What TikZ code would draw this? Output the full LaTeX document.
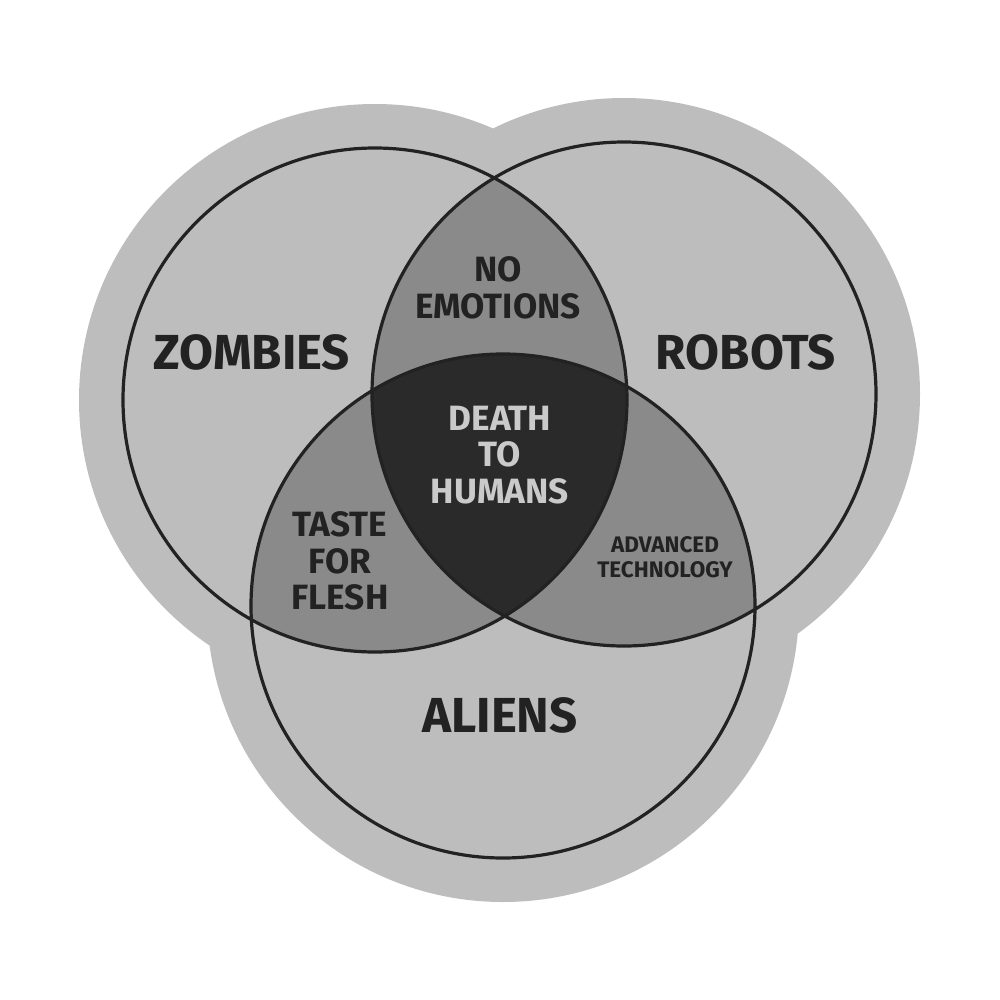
\documentclass[tikz,border=0pt]{standalone}
\usepackage{fontspec}
\setmainfont{Fira Sans}
\definecolor{sticker}{HTML}{BDBDBD}
\definecolor{lens}{HTML}{8A8A8A}
\definecolor{core}{HTML}{2A2A2A}
\definecolor{ink}{HTML}{222222}
\tikzset{
  setlabel/.style={font=\bfseries\fontsize{35}{37}\selectfont, text=ink, align=center},
  pairlabel/.style={font=\bfseries\fontsize{25}{26}\selectfont, text=ink, align=center},
  smalllabel/.style={font=\bfseries\fontsize{16}{18}\selectfont, text=ink, align=center},
  coreline/.style={line width=0.8mm, draw=ink}
}
\begin{document}
\begin{tikzpicture}[x=0.25mm,y=-0.25mm]
\useasboundingbox (0,0) rectangle (1000,1000);
\fill[white] (0,0) rectangle (1000,1000);

\coordinate (zombies) at (375,400);
\coordinate (robots) at (624,394);
\coordinate (aliens) at (503,606);
\def\rad{252}

%Shape: sticker
\fill[sticker] (zombies) circle (296) (robots) circle (296) (aliens) circle (296);
\fill[sticker] (zombies) -- (robots) -- (aliens) -- cycle;

%Shape: lenses
\begin{scope}
\clip (zombies) circle (\rad);
\fill[lens] (robots) circle (\rad);
\fill[lens] (aliens) circle (\rad);
\end{scope}
\begin{scope}
\clip (robots) circle (\rad);
\fill[lens] (aliens) circle (\rad);
\end{scope}
\begin{scope}
\clip (zombies) circle (\rad);
\clip (robots) circle (\rad);
\fill[core] (aliens) circle (\rad);
\end{scope}

%Shape: outlines
\draw[coreline] (zombies) circle (\rad) (robots) circle (\rad) (aliens) circle (\rad);

% Text Node
\node[setlabel] (zlabel) at (252,352) {ZOMBIES};
\node[setlabel] (rlabel) at (746,352) {ROBOTS};
\node[setlabel] (alabel) at (500,715) {ALIENS};
\node[pairlabel] (zr) at (498,288) {NO\\EMOTIONS};
\node[pairlabel] (za) at (340,561) {TASTE\\FOR\\FLESH};
\node[smalllabel] (ra) at (665,557) {ADVANCED\\TECHNOLOGY};
\node[pairlabel, text=sticker!80!white] (all) at (500,455) {DEATH\\TO\\HUMANS};
\end{tikzpicture}
\end{document}
